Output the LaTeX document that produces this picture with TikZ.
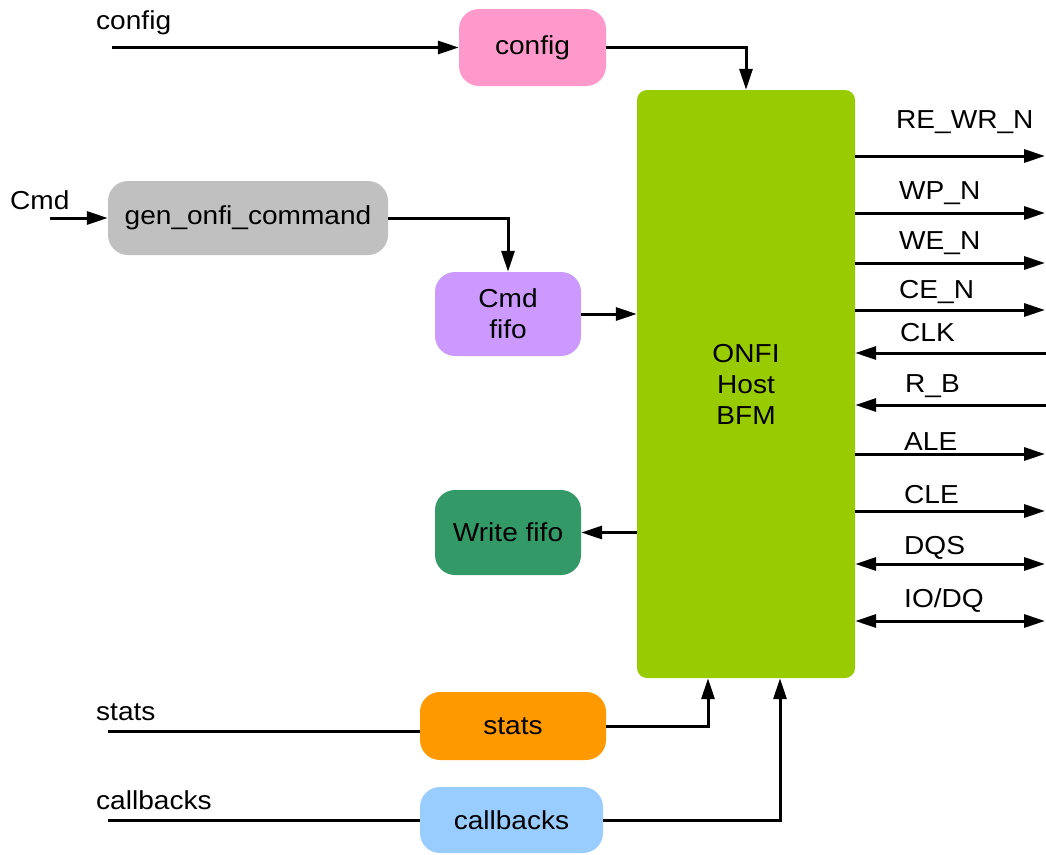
\documentclass[tikz,border=0pt]{standalone}
\usepackage{fontspec}
\setmainfont{Liberation Sans}[FakeStretch=1.08]
\usetikzlibrary{arrows.meta}
\definecolor{cpink}{HTML}{FF99CC}
\definecolor{cgreen}{HTML}{99CC00}
\definecolor{cgray}{HTML}{C0C0C0}
\definecolor{cviolet}{HTML}{CC99FF}
\definecolor{cdgreen}{HTML}{339966}
\definecolor{corange}{HTML}{FF9900}
\definecolor{cblue}{HTML}{99CCFF}
\begin{document}
\begin{tikzpicture}[x=1pt,y=-1pt,
  every node/.style={font=\fontsize{26}{31}\selectfont, inner sep=0pt},
  blk/.style={rectangle, rounded corners=20pt, align=center},
  lbl/.style={anchor=west},
  wire/.style={line width=3pt},
  arr/.style={wire, -{Triangle[length=21pt,width=13pt]}},
  barr/.style={wire, {Triangle[length=21pt,width=13pt]}-{Triangle[length=21pt,width=13pt]}}]
\useasboundingbox (0,0) rectangle (1046,854);

% blocks
\node[blk, fill=cpink, minimum width=147pt, minimum height=77pt] (cfg) at (532.5,47.5) {config};
\node[rectangle, rounded corners=10pt, fill=cgreen, minimum width=218pt, minimum height=588pt, align=center] (bfm) at (746,384) {ONFI\\Host\\BFM};
\node[blk, fill=cgray, minimum width=280pt, minimum height=74pt] (gen) at (248,218) {gen\_onfi\_command};
\node[blk, fill=cviolet, minimum width=146pt, minimum height=84pt] (cmdf) at (508,314) {Cmd\\fifo};
\node[blk, fill=cdgreen, minimum width=146pt, minimum height=85pt] (wrf) at (508,532.5) {Write fifo};
\node[blk, fill=corange, minimum width=186pt, minimum height=68pt] (sts) at (513,726) {stats};
\node[blk, fill=cblue, minimum width=183pt, minimum height=66pt] (cb) at (511.5,820) {callbacks};

% left side inputs
\node[lbl] (lcfg) at (96,23) {config};
\coordinate (cin) at (112,47.5);
\draw[arr] (cin) -- (cfg.west);
\draw[arr] (cfg.east) -| (bfm.north);

\node[lbl] (lcmd) at (10,200) {Cmd};
\coordinate (cmdin) at (50,218);
\draw[arr] (cmdin) -- (gen.west);
\draw[arr] (gen.east) -| (cmdf.north);
\draw[arr] (cmdf.east) -- (cmdf.east -| bfm.west);
\draw[arr] (bfm.west |- wrf.east) -- (wrf.east);

\node[lbl] (lsts) at (96,712) {stats};
\coordinate (stsin) at (108,731);
\draw[wire] (stsin) -- (sts.west |- stsin);
\draw[arr] (sts.east) -| ([xshift=-38pt]bfm.south);

\node[lbl] (lcb) at (96,800) {callbacks};
\coordinate (cbin) at (108,820);
\draw[wire] (cbin) -- (cb.west);
\draw[arr] (cb.east) -| ([xshift=34pt]bfm.south);

% right side signals
\coordinate (s1) at (1045,156);
\coordinate (s2) at (1045,213);
\coordinate (s3) at (1045,263);
\coordinate (s4) at (1045,310);
\coordinate (s5) at (1046,353);
\coordinate (s6) at (1046,405);
\coordinate (s7) at (1045,454);
\coordinate (s8) at (1045,511);
\coordinate (s9) at (1045,564);
\coordinate (s10) at (1045,621);

\draw[arr] (bfm.east |- s1) -- (s1);
\draw[arr] (bfm.east |- s2) -- (s2);
\draw[arr] (bfm.east |- s3) -- (s3);
\draw[arr] (bfm.east |- s4) -- (s4);
\draw[arr] (s5) -- (bfm.east |- s5);
\draw[arr] (s6) -- (bfm.east |- s6);
\draw[arr] (bfm.east |- s7) -- (s7);
\draw[arr] (bfm.east |- s8) -- (s8);
\draw[barr] (bfm.east |- s9) -- (s9);
\draw[barr] (bfm.east |- s10) -- (s10);

\node[lbl] (l1) at (896,122) {RE\_WR\_N};
\node[lbl] (l2) at (899,193) {WP\_N};
\node[lbl] (l3) at (899,243) {WE\_N};
\node[lbl] (l4) at (899,292) {CE\_N};
\node[lbl] (l5) at (900,333) {CLK};
\node[lbl] (l6) at (905,386) {R\_B};
\node[lbl] (l7) at (904,442) {ALE};
\node[lbl] (l8) at (904,495) {CLE};
\node[lbl] (l9) at (904,548) {DQS};
\node[lbl] (l10) at (904,601) {IO/DQ};
\end{tikzpicture}
\end{document}
